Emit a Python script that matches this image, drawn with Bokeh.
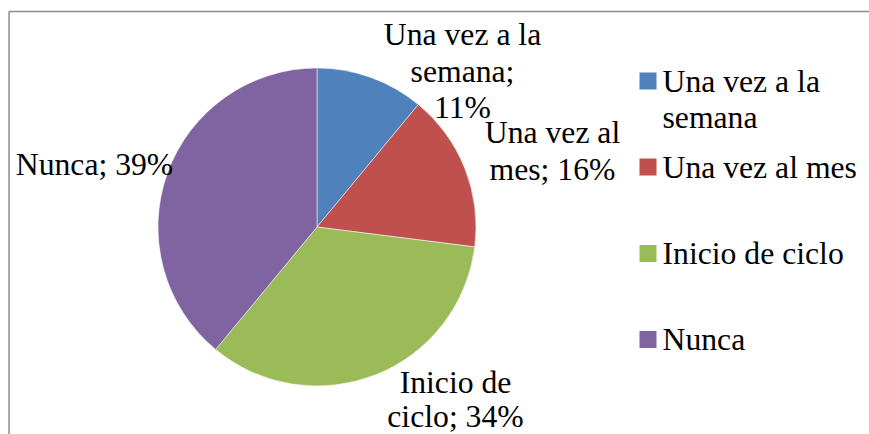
import math
from bokeh.plotting import figure
from bokeh.models import Range1d
from bokeh.core.properties import value
from bokeh.embed import file_html
from bokeh.resources import INLINE

# ---- data ----
categories = ["Una vez a la semana", "Una vez al mes", "Inicio de ciclo", "Nunca"]
percents = [11, 16, 34, 39]
colors = ["#4F81BD", "#C0504D", "#9BBB59", "#8064A2"]

# label line breaks (layout of text as in the reference)
label_lines = [
    ["Una vez a la", "semana;", "11%"],
    ["Una vez al", "mes; 16%"],
    ["Inicio de", "ciclo; 34%"],
    ["Nunca; 39%"],
]
legend_lines = [["Una vez a la", "semana"], ["Una vez al mes"], ["Inicio de ciclo"], ["Nunca"]]

W, H = 869, 434
FONT = value("Liberation Serif")
FS = "31.7px"
BASE_FIX = 11  # empirical shift so that the alphabetic baseline lands where wanted


def dy(page_y):
    # picture pixel y -> data y (1 data unit == 1 px)
    return H - page_y


def dx(page_x):
    return page_x


p = figure(width=W, height=H, output_backend="svg", toolbar_location=None,
           x_range=Range1d(0, W), y_range=Range1d(0, H),
           min_border=0, min_border_left=0, min_border_right=0,
           min_border_top=0, min_border_bottom=0)
p.xaxis.visible = False
p.yaxis.visible = False
p.xgrid.visible = False
p.ygrid.visible = False
p.outline_line_color = None
p.background_fill_color = "white"
p.border_fill_color = "white"

# chart border (top and left visible in the crop)
p.segment(x0=[dx(8.5), dx(8.5)], y0=[dy(11), dy(11)], x1=[W, dx(8.5)], y1=[dy(11), 0],
          line_color="#8c8c8c", line_width=1.5)

# pie
cx, cy, r = dx(316.5), dy(226.5), 159
total = sum(percents)
starts, ends = [], []
cum = 0.0
for v in percents:
    starts.append(math.pi / 2 - 2 * math.pi * cum / total)
    cum += v
    ends.append(math.pi / 2 - 2 * math.pi * cum / total)
p.wedge(x=[cx] * 4, y=[cy] * 4, radius=r, radius_units="screen",
        start_angle=starts, end_angle=ends, direction="clock",
        fill_color=colors, line_color="white", line_width=1, line_alpha=0.5)

# data labels: (center x, first baseline y) in picture pixels
label_pos = [(462, 45), (552, 143), (455, 393), (94, 175)]
line_h = [36.5, 37, 34, 36]
tx, ty, tt = [], [], []
for (lx, ly), lines, lh in zip(label_pos, label_lines, line_h):
    for i, s in enumerate(lines):
        tx.append(dx(lx))
        ty.append(dy(ly + i * lh - BASE_FIX))
        tt.append(s)
p.text(x=tx, y=ty, text=tt, text_font=FONT, text_font_size=FS,
       text_align="center", text_baseline="alphabetic", text_color="black")

# legend
sq_y = [80.5, 166.5, 253, 339]
txt_y = [92, 178, 263.5, 349.5]
p.rect(x=[dx(647.5)] * 4, y=[dy(v) for v in sq_y], width=17, height=17,
       width_units="screen", height_units="screen",
       fill_color=colors, line_color=None)
lx_, ly_, lt_ = [], [], []
for yb, lines in zip(txt_y, legend_lines):
    for i, s in enumerate(lines):
        lx_.append(dx(662))
        ly_.append(dy(yb + i * 36 - BASE_FIX))
        lt_.append(s)
p.text(x=lx_, y=ly_, text=lt_, text_font=FONT, text_font_size=FS,
       text_align="left", text_baseline="alphabetic", text_color="black")

open("out.html", "w").write(file_html(p, INLINE))
